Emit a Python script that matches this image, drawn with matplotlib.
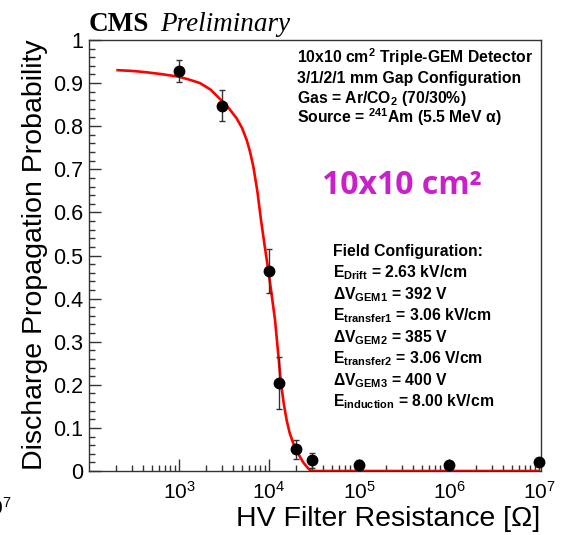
import math
import matplotlib
matplotlib.use("Agg")
import matplotlib.pyplot as plt
from matplotlib.ticker import FixedLocator, FuncFormatter, NullFormatter

plt.rcParams['font.family'] = ['Liberation Sans', 'DejaVu Sans']
plt.rcParams['mathtext.fontset'] = 'custom'
plt.rcParams['mathtext.rm'] = 'Liberation Sans'
plt.rcParams['mathtext.bf'] = 'Liberation Sans:bold'
plt.rcParams['mathtext.it'] = 'Liberation Sans:italic'

# measured points: filter resistance [Ohm], probability, error
res = [1e3, 3e3, 1e4, 1.3e4, 2e4, 3e4, 1e5, 1e6, 1e7]
prob = [0.928, 0.848, 0.464, 0.204, 0.050, 0.025, 0.015, 0.013, 0.021]
prob_err = [0.025, 0.036, 0.050, 0.060, 0.022, 0.017, 0.010, 0.008, 0.010]

# fitted curve as drawn
fit_x = [208, 316, 438, 631, 982, 1259, 1710, 2239, 3055, 3631, 4375, 5012,
         5650, 6166, 6700, 7413, 8150, 8913, 9820, 10715, 11670, 12589,
         13580, 14622, 15700, 16982, 18620, 20417, 22080, 23988, 26240,
         28184, 29790, 1e7]
fit_y = [0.930, 0.928, 0.925, 0.921, 0.915, 0.909, 0.900, 0.885, 0.857,
         0.840, 0.818, 0.796, 0.768, 0.740, 0.706, 0.650, 0.582, 0.525,
         0.466, 0.408, 0.350, 0.277, 0.203, 0.155, 0.118, 0.088, 0.064,
         0.046, 0.033, 0.020, 0.010, 0.003, 0.0, 0.0]

info_lines = [
    r"10x10 cm$^{\mathbf{2}}$ Triple-GEM Detector",
    "3/1/2/1 mm Gap Configuration",
    r"Gas = Ar/CO$_{\mathbf{2}}$ (70/30%)",
    r"Source = $^{\mathbf{241}}$Am (5.5 MeV α)",
]
field_lines = [
    "Field Configuration:",
    r"E$_{\mathbf{Drift}}$ = 2.63 kV/cm",
    r"ΔV$_{\mathbf{GEM1}}$ = 392 V",
    r"E$_{\mathbf{transfer1}}$ = 3.06 kV/cm",
    r"ΔV$_{\mathbf{GEM2}}$ = 385 V",
    r"E$_{\mathbf{transfer2}}$ = 3.06 V/cm",
    r"ΔV$_{\mathbf{GEM3}}$ = 400 V",
    r"E$_{\mathbf{induction}}$ = 8.00 kV/cm",
]

W, H = 564, 535
fig = plt.figure(figsize=(W / 100, H / 100), dpi=100)
ax = fig.add_axes([89 / W, 1 - 471 / H, (541 - 89) / W, (471 - 40) / H])

ax.plot(fit_x, fit_y, color='red', lw=1.9, zorder=2,
        solid_joinstyle='round')
ax.errorbar(res, prob, yerr=prob_err, fmt='o', color='black', ms=7.5,
            ecolor='#333333', elinewidth=1, capsize=2.5, capthick=1, zorder=3,
            clip_on=False)

ax.set_xscale('log')
ax.set_xlim(100, 1.052e7)
ax.set_ylim(0, 1)

ax.xaxis.set_major_locator(FixedLocator([1e3, 1e4, 1e5, 1e6, 1e7]))
minors = [m * 10 ** e for e in range(2, 7) for m in range(2, 10)]
ax.xaxis.set_minor_locator(FixedLocator(minors))
ax.xaxis.set_major_formatter(FuncFormatter(
    lambda v, p: r"$\mathdefault{10^{%d}}$" % round(math.log10(v))))
ax.xaxis.set_minor_formatter(NullFormatter())

ax.yaxis.set_major_locator(FixedLocator([i / 10 for i in range(11)]))
ax.yaxis.set_minor_locator(FixedLocator([i / 50 for i in range(51)]))
ax.yaxis.set_major_formatter(FuncFormatter(lambda v, p: "%g" % round(v, 1)))

ax.tick_params(which='both', direction='in', top=False, right=False,
               color='#333333', width=1)
ax.tick_params(which='major', length=8.6)
ax.tick_params(which='minor', length=4.3)
ax.tick_params(axis='y', labelsize=15.5, pad=4)
ax.tick_params(axis='x', labelsize=15, pad=7)
for s in ax.spines.values():
    s.set_color('#333333')
    s.set_linewidth(1)

fig.text(35 / W, 1 - 255 / H, "Discharge Propagation Probability", rotation=90,
         ha='center', va='center', fontsize=20.5)
fig.text(540 / W, 1 - 526 / H, "HV Filter Resistance [Ω]", ha='right',
         va='baseline', fontsize=20.5)

fig.text(89 / W, 1 - 31 / H, "CMS", family='Liberation Serif',
         fontweight='bold', fontsize=19.5, va='baseline')
fig.text(160 / W, 1 - 31 / H, "Preliminary", family='Liberation Serif',
         style='italic', fontsize=19.5, va='baseline')

for i, line in enumerate(info_lines):
    fig.text(297 / W, 1 - (63 + 20 * i) / H, line, fontweight='bold',
             fontsize=11.3, va='baseline')
for i, line in enumerate(field_lines):
    fig.text(333 / W, 1 - (256 + 21.5 * i) / H, line, fontweight='bold',
             fontsize=11.3, va='baseline')

fig.text(322 / W, 1 - 194 / H, "10x10 cm²", family='Open Sans',
         fontweight='bold', fontsize=23, color='#CC1FCC', va='baseline')

# neighbouring panel's axis label, cut at the edge
fig.text(12 / W, 1 - 515 / H, r"$\mathdefault{10^{7}}$", ha='right',
         va='baseline', fontsize=15)

fig.savefig("out.png", dpi=100)
